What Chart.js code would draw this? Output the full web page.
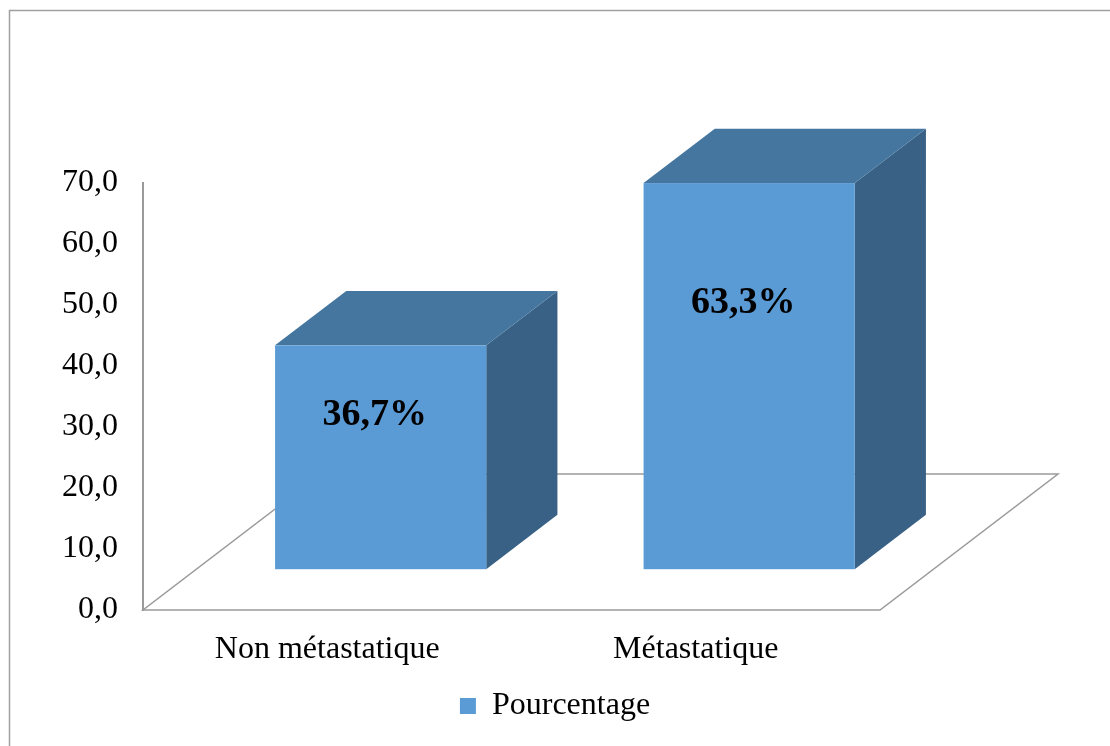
<!DOCTYPE html>
<html lang="fr">
<head>
<meta charset="utf-8">
<title>Pourcentage</title>
<script src="https://cdn.jsdelivr.net/npm/chart.js@4.4.1/dist/chart.umd.min.js"></script>
<style>
  html, body { margin: 0; padding: 0; background: #fff; }
  #wrap { position: relative; width: 1110px; height: 746px; }
</style>
</head>
<body>
<div id="wrap"><canvas id="statut"></canvas></div>
<script>
// Répartition des patients selon le statut métastatique
const categories = ['Non métastatique', 'Métastatique'];
const pourcentages = [36.7, 63.3];
const seriesName = 'Pourcentage';
const yTicks = [0, 10, 20, 30, 40, 50, 60, 70];

const FONT = '"Liberation Serif", "Times New Roman", serif';
const FRONT = '#5B9BD5';
const TOP = '#45769F';
const SIDE = '#386185';
const GRAY = '#9A9A9A';

// floor depth of the pseudo-3D plot, bars sit between 30% and 70% of it
const DEPTH_X = 178;
const DEPTH_Y = 136;
const FRONT_AT = 0.3;
const BACK_AT = 0.7;

const fmt = v => v.toFixed(1).replace('.', ',');

const box3d = {
  id: 'box3d',
  beforeDatasetsDraw(chart) {
    const ctx = chart.ctx;
    const a = chart.chartArea;

    // floor outline
    ctx.save();
    ctx.strokeStyle = GRAY;
    ctx.lineWidth = 1.5;
    ctx.beginPath();
    ctx.moveTo(a.left, a.bottom);
    ctx.lineTo(a.right, a.bottom);
    ctx.lineTo(a.right + DEPTH_X, a.bottom - DEPTH_Y);
    ctx.lineTo(a.left + DEPTH_X, a.bottom - DEPTH_Y);
    ctx.closePath();
    ctx.stroke();
    ctx.restore();

    const fx = DEPTH_X * FRONT_AT, fy = DEPTH_Y * FRONT_AT;
    const bx = DEPTH_X * (BACK_AT - FRONT_AT), by = DEPTH_Y * (BACK_AT - FRONT_AT);

    chart.getDatasetMeta(0).data.forEach((el, i) => {
      const l = el.x - el.width / 2 + fx;
      const r = el.x + el.width / 2 + fx;
      const t = el.y - fy;
      const b = el.base - fy;

      ctx.save();
      // right side
      ctx.fillStyle = SIDE;
      ctx.beginPath();
      ctx.moveTo(r, t);
      ctx.lineTo(r + bx, t - by);
      ctx.lineTo(r + bx, b - by);
      ctx.lineTo(r, b);
      ctx.closePath();
      ctx.fill();
      // top
      ctx.fillStyle = TOP;
      ctx.beginPath();
      ctx.moveTo(l, t);
      ctx.lineTo(l + bx, t - by);
      ctx.lineTo(r + bx, t - by);
      ctx.lineTo(r, t);
      ctx.closePath();
      ctx.fill();
      // front
      ctx.fillStyle = FRONT;
      ctx.fillRect(l, t, r - l, b - t);

      // value label
      const v = pourcentages[i];
      ctx.fillStyle = '#000';
      ctx.font = 'bold 38px ' + FONT;
      ctx.textAlign = 'center';
      ctx.textBaseline = 'middle';
      ctx.fillText(fmt(v) + '%', (l + r) / 2 - 6, b - (b - t) * 0.69);
      ctx.restore();
    });
    return false;
  },
  afterDraw(chart) {
    // outer frame
    const ctx = chart.ctx;
    ctx.save();
    ctx.strokeStyle = '#A0A0A0';
    ctx.lineWidth = 1.5;
    ctx.beginPath();
    ctx.moveTo(9.5, chart.height);
    ctx.lineTo(9.5, 10.5);
    ctx.lineTo(chart.width, 10.5);
    ctx.stroke();
    ctx.restore();
  }
};

new Chart(document.getElementById('statut'), {
  type: 'bar',
  data: {
    labels: categories,
    datasets: [{
      label: seriesName,
      data: pourcentages,
      backgroundColor: FRONT,
      borderWidth: 0,
      barPercentage: 0.573,
      categoryPercentage: 1
    }]
  },
  options: {
    responsive: true,
    maintainAspectRatio: false,
    animation: false,
    layout: { padding: { left: 0, right: 0, top: 183, bottom: 14 } },
    scales: {
      x: {
        grid: { display: false, drawTicks: false },
        border: { display: false },
        ticks: { color: '#000', font: { family: FONT, size: 32 }, padding: 20, maxRotation: 0 },
        afterFit(scale) { scale.height = 70; }
      },
      y: {
        min: 0,
        max: 70,
        afterBuildTicks(scale) { scale.ticks = yTicks.map(v => ({ value: v })); },
        grid: { display: false, drawTicks: false },
        border: { display: true, color: GRAY, width: 2 },
        ticks: { color: '#000', font: { family: FONT, size: 32 }, padding: 25, callback: v => fmt(v) },
        afterFit(scale) { scale.width = 143; }
      },
      // empty right-hand axis that keeps room for the floor depth
      depth: {
        position: 'right',
        grid: { display: false, drawTicks: false },
        border: { display: false },
        ticks: { display: false },
        afterFit(scale) { scale.width = 230; }
      }
    },
    plugins: {
      legend: {
        position: 'bottom',
        labels: { color: '#000', font: { family: FONT, size: 32 }, boxWidth: 16, boxHeight: 16, padding: 10 }
      },
      tooltip: { enabled: false }
    }
  },
  plugins: [box3d]
});
</script>
</body>
</html>
